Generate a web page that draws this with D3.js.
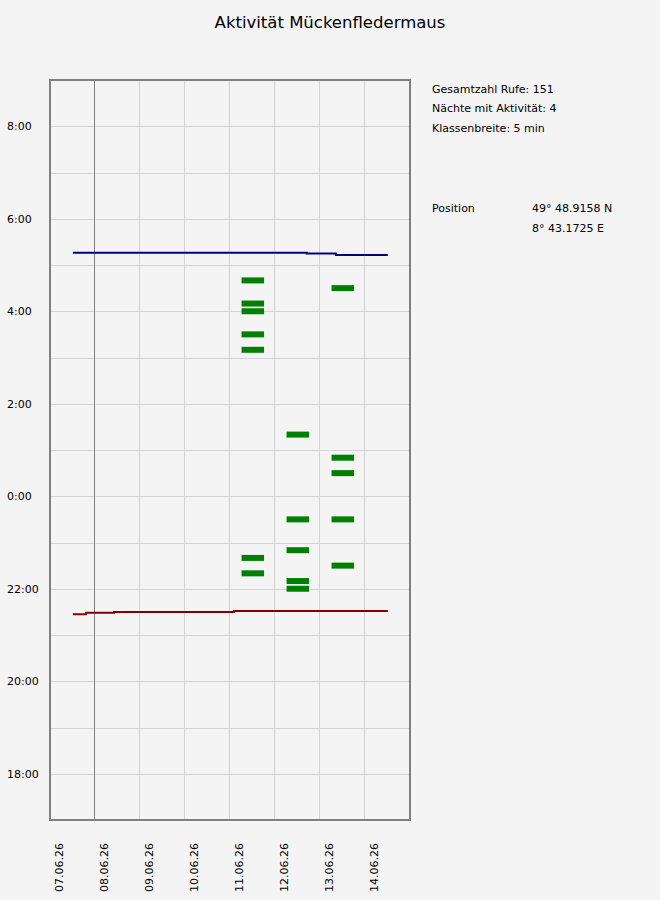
<!DOCTYPE html>
<html>
<head>
<meta charset="utf-8">
<script src="https://cdn.jsdelivr.net/npm/d3@7"></script>
<style>
  html, body { margin: 0; padding: 0; background: #f4f4f4; }
  svg { display: block; }
  text { font-family: "DejaVu Sans", sans-serif; fill: #000; }
</style>
</head>
<body>
<svg id="chart" width="660" height="900"></svg>
<script>
// ---------- data ----------
const title = "Aktivität Mückenfledermaus";
const dayTicks = ["2026-06-07","2026-06-08","2026-06-09","2026-06-10","2026-06-11","2026-06-12","2026-06-13","2026-06-14"];
const xStart = "2026-06-07", xEnd = "2026-06-15";
const markerDay = "2026-06-08";
const yTickHours = [18, 20, 22, 24, 26, 28, 30, 32];   // evening hours, then +24 for after midnight

// activity bars: night (evening date) and time of call bins
const nightDates = ["2026-06-11", "2026-06-12", "2026-06-13"];
const nightTimes = [
  ["22:20","22:40","03:10","03:30","04:00","04:10","04:40"],
  ["22:00","22:10","22:50","23:30","01:20"],
  ["22:30","23:30","00:30","00:50","04:30"]
];

// sunset (red) and sunrise (blue) step lines
const sunsetAt   = ["2026-06-07T12:00","2026-06-07T19:00","2026-06-08T10:00","2026-06-11T02:00","2026-06-14T12:00"];
const sunsetTime = ["21:27","21:29","21:30","21:31","21:31"];
const sunriseAt   = ["2026-06-07T12:00","2026-06-12T16:45","2026-06-13T08:20","2026-06-14T12:00"];
const sunriseTime = ["05:16","05:15","05:13","05:13"];

const infoLines = ["Gesamtzahl Rufe: 151", "Nächte mit Aktivität: 4", "Klassenbreite: 5 min"];
const posLabel = "Position";
const posValues = ["49° 48.9158 N", "8° 43.1725 E"];

// ---------- helpers ----------
const parseDay = d3.utcParse("%Y-%m-%d");
const parseDT = d3.utcParse("%Y-%m-%dT%H:%M");
function hourVal(t) {            // "HH:MM" -> hours on 17..33 axis
  const [h, m] = t.split(":").map(Number);
  let v = h + m / 60;
  if (v < 12) v += 24;
  return v;
}

// ---------- layout ----------
const svg = d3.select("#chart");
const L = 50.3, R = 410.3, T = 80, B = 820;

const x = d3.scaleUtc().domain([parseDay(xStart), parseDay(xEnd)]).range([L, R]);
const y = d3.scaleLinear().domain([17, 33]).range([B, T]);

// title
svg.append("text").attr("x", 330).attr("y", 28).attr("text-anchor", "middle")
  .style("font-size", "16.5px").text(title);

// grid
const g = svg.append("g");
g.selectAll(".hgrid").data(d3.range(18, 33)).join("line")
  .attr("x1", L).attr("x2", R)
  .attr("y1", d => Math.round(y(d)) + 0.5).attr("y2", d => Math.round(y(d)) + 0.5)
  .attr("stroke", "#d3d3d3").attr("stroke-width", 1);
g.selectAll(".vgrid").data(dayTicks.slice(1)).join("line")
  .attr("x1", d => Math.round(x(parseDay(d))) - 0.5).attr("x2", d => Math.round(x(parseDay(d))) - 0.5)
  .attr("y1", T).attr("y2", B)
  .attr("stroke", d => d === markerDay ? "#808080" : "#d3d3d3").attr("stroke-width", 1);

// activity bars
const bars = [];
nightDates.forEach((nd, i) => nightTimes[i].forEach(t => bars.push({ night: parseDay(nd), t })));
svg.append("g").selectAll("rect").data(bars).join("rect")
  .attr("x", d => x(d3.utcHour.offset(d.night, 6)))
  .attr("width", d => x(d3.utcHour.offset(d.night, 18)) - x(d3.utcHour.offset(d.night, 6)))
  .attr("y", d => y(hourVal(d.t)) - 3)
  .attr("height", 6)
  .attr("fill", "#008000");

// sun lines
const line = d3.line().curve(d3.curveStepAfter).x(d => x(d[0])).y(d => y(d[1]));
const sunsetPts = sunsetAt.map((a, i) => [parseDT(a), hourVal(sunsetTime[i])]);
const sunrisePts = sunriseAt.map((a, i) => [parseDT(a), hourVal(sunriseTime[i])]);
svg.append("path").attr("d", line(sunsetPts)).attr("fill", "none")
  .attr("stroke", "#800000").attr("stroke-width", 2);
svg.append("path").attr("d", line(sunrisePts)).attr("fill", "none")
  .attr("stroke", "#000080").attr("stroke-width", 2);

// frame
svg.append("rect").attr("x", L - 0.3).attr("y", T).attr("width", R - L).attr("height", B - T)
  .attr("fill", "none").attr("stroke", "#808080").attr("stroke-width", 2);

// y axis labels
const yAxis = d3.axisLeft(y).tickValues(yTickHours).tickSize(0)
  .tickFormat(h => (h % 24) + ":00");
const ya = svg.append("g").attr("transform", `translate(${L},0)`).call(yAxis);
ya.select(".domain").remove();
ya.selectAll("text").attr("x", 7 - L).attr("text-anchor", "start")
  .style("font-size", "11px").style("font-family", "DejaVu Sans").attr("fill", "#000");

// x axis labels
const xAxis = d3.axisBottom(x).tickValues(dayTicks.map(parseDay)).tickSize(0)
  .tickFormat(d3.utcFormat("%d.%m.%y"));
const xa = svg.append("g").attr("transform", `translate(0,${B})`).call(xAxis);
xa.select(".domain").remove();
xa.selectAll("text")
  .attr("transform", "translate(12,72) rotate(-90)")
  .attr("x", 0).attr("y", 0).attr("dy", 0)
  .attr("text-anchor", "start")
  .style("font-size", "11px").style("font-family", "DejaVu Sans").attr("fill", "#000");

// info panel
svg.append("g").selectAll("text").data(infoLines).join("text")
  .attr("x", 432).attr("y", (d, i) => 92.5 + i * 19.5)
  .style("font-size", "11px").text(d => d);
svg.append("text").attr("x", 432).attr("y", 211.5).style("font-size", "11px").text(posLabel);
svg.append("g").selectAll("text").data(posValues).join("text")
  .attr("x", 532).attr("y", (d, i) => 211.5 + i * 20)
  .style("font-size", "11px").text(d => d);
</script>
</body>
</html>
